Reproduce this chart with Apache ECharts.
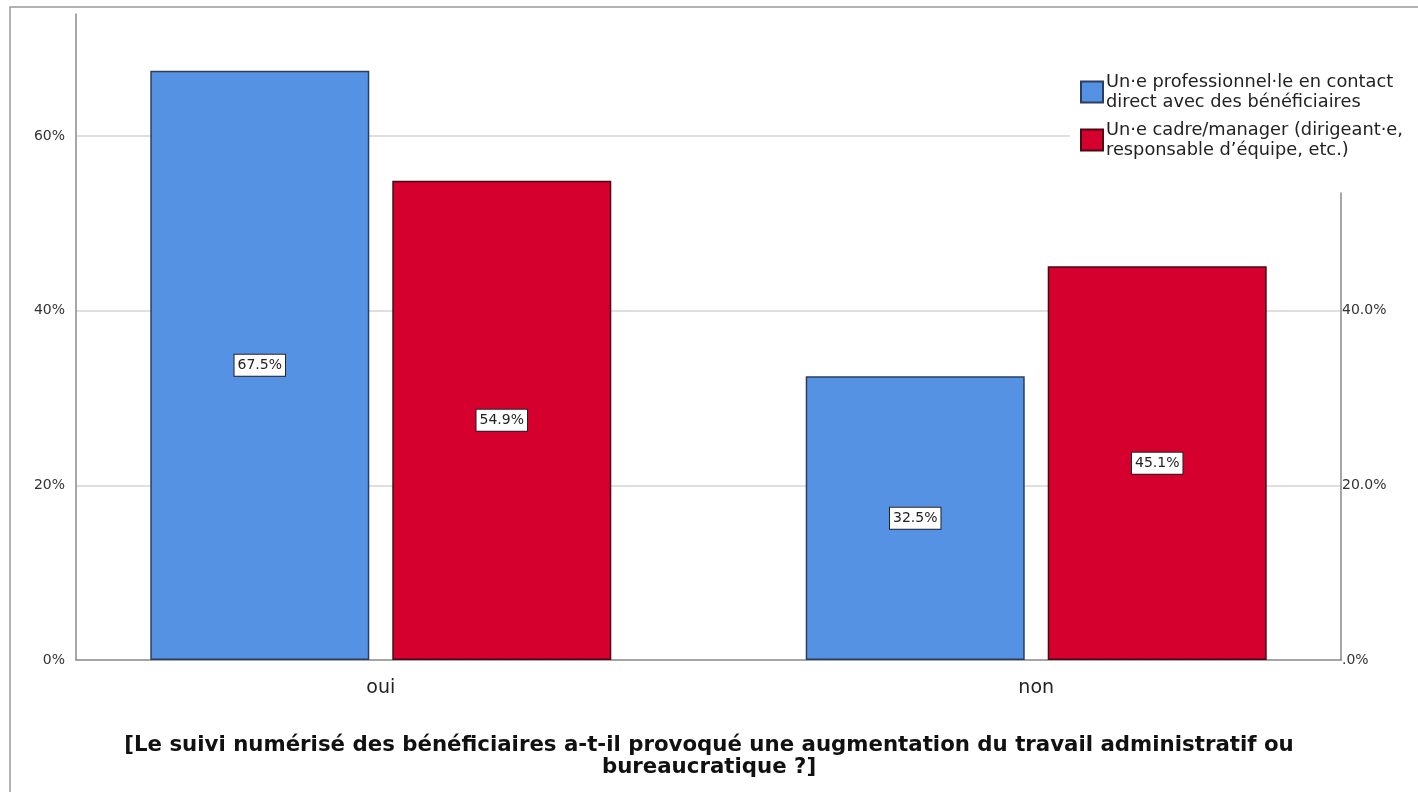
<!DOCTYPE html>
<html lang="fr">
<head>
    <meta charset="UTF-8">
    <title>Suivi numérisé</title>
</head>
<style>
    html, body { margin: 0; padding: 0; background: #fff; }
    #chart { width: 1418px; height: 792px; }
</style>
<body>
<div id="chart"></div>
</body>
<script src="https://cdn.jsdelivr.net/npm/echarts@6/dist/echarts.min.js"></script>
<script>
    // données (%)
    var categories = ['oui', 'non'];
    var seriesNames = [
        'Un·e professionnel·le en contact\ndirect avec des bénéficiaires',
        'Un·e cadre/manager (dirigeant·e,\nresponsable d\u2019équipe, etc.)'
    ];
    var proValues = [67.5, 32.5];
    var cadreValues = [54.9, 45.1];
    var leftTicks = [0, 20, 40, 60];
    var rightTicks = [0, 20, 40];
    var axisTitle = '[Le suivi numérisé des bénéficiaires a-t-il provoqué une augmentation du travail administratif ou\nbureaucratique ?]';

    // l'image d'origine est étirée en largeur : police large
    var font = 'DejaVu Sans, Verdana, sans-serif';
    var yMax = 74;        // haut de l'axe gauche
    var yMaxRight = 53.5; // l'axe droit s'arrête sous la légende

    function toPoints(values) {
        return values.map(function (v, i) { return [i, v]; });
    }

    var barLabel = {
        show: true,
        position: 'inside',
        formatter: function (p) { return p.value[1].toFixed(1) + '%'; },
        backgroundColor: '#fff',
        borderColor: '#222',
        borderWidth: 1,
        padding: [4, 3, 3, 3],
        color: '#222',
        fontSize: 14,
        fontFamily: font
    };

    var chart = echarts.init(document.getElementById('chart'));
    var option = {
        animation: false,
        backgroundColor: '#fff',
        title: {
            text: axisTitle,
            left: 'center',
            top: 729,
            textStyle: {
                fontSize: 21.3,
                fontWeight: 'bold',
                color: '#111',
                fontFamily: font,
                lineHeight: 22
            }
        },
        legend: {
            orient: 'vertical',
            left: 1070,
            top: 62,
            padding: 10,
            backgroundColor: '#fff',
            icon: 'rect',
            itemWidth: 22,
            itemHeight: 21,
            itemGap: 8,
            textStyle: {
                fontSize: 17.8,
                lineHeight: 20,
                color: '#222',
                fontFamily: font,
                padding: [0, 0, 0, -2]
            },
            data: seriesNames
        },
        grid: [
            {left: 76, right: 77, top: 14, bottom: 132},
            {left: 76, right: 77, top: 193, bottom: 132}
        ],
        xAxis: [
            {
                type: 'value',
                gridIndex: 0,
                min: -0.465,
                max: 1.465,
                splitLine: {show: false},
                axisTick: {show: false},
                axisLine: {show: true, onZero: false, lineStyle: {color: '#888', width: 1.5}},
                axisLabel: {
                    customValues: [0, 1],
                    formatter: function (v) { return categories[Math.round(v)]; },
                    fontSize: 19,
                    color: '#222',
                    fontFamily: font,
                    margin: 19
                }
            },
            {
                type: 'value',
                gridIndex: 1,
                min: -0.465,
                max: 1.465,
                show: false
            }
        ],
        yAxis: [
            {
                type: 'value',
                gridIndex: 0,
                min: 0,
                max: yMax,
                interval: 20,
                axisLine: {show: true, onZero: false, lineStyle: {color: '#888', width: 1.5}},
                axisTick: {show: false},
                axisLabel: {
                    customValues: leftTicks,
                    formatter: '{value}%',
                    fontSize: 14,
                    color: '#333',
                    fontFamily: font,
                    margin: 11
                },
                splitLine: {
                    show: true,
                    showMinLine: false,
                    showMaxLine: false,
                    lineStyle: {color: '#d4d4d4', width: 1.5}
                }
            },
            {
                type: 'value',
                gridIndex: 1,
                position: 'right',
                min: 0,
                max: yMaxRight,
                interval: 20,
                axisLine: {show: true, onZero: false, lineStyle: {color: '#888', width: 1.5}},
                axisTick: {show: false},
                splitLine: {show: false},
                axisLabel: {
                    customValues: rightTicks,
                    formatter: function (v) { return v === 0 ? '.0%' : v.toFixed(1) + '%'; },
                    fontSize: 14,
                    color: '#333',
                    fontFamily: font,
                    margin: 1
                }
            }
        ],
        series: [
            {
                name: seriesNames[0],
                type: 'bar',
                xAxisIndex: 0,
                yAxisIndex: 0,
                data: toPoints(proValues),
                barWidth: 219,
                barGap: '10.5%',
                itemStyle: {color: '#5592e4', borderColor: '#2c3e5c', borderWidth: 1.5},
                label: barLabel
            },
            {
                name: seriesNames[1],
                type: 'bar',
                xAxisIndex: 0,
                yAxisIndex: 0,
                data: toPoints(cadreValues),
                barWidth: 219,
                barGap: '10.5%',
                itemStyle: {color: '#d5002e', borderColor: '#4a0a14', borderWidth: 1.5},
                label: barLabel
            }
        ],
        graphic: [
            {
                type: 'rect',
                silent: true,
                z: 100,
                shape: {x: 10, y: 7, width: 1500, height: 900},
                style: {fill: 'none', stroke: '#999', lineWidth: 1.5}
            }
        ]
    };
    chart.setOption(option);
</script>
</html>
